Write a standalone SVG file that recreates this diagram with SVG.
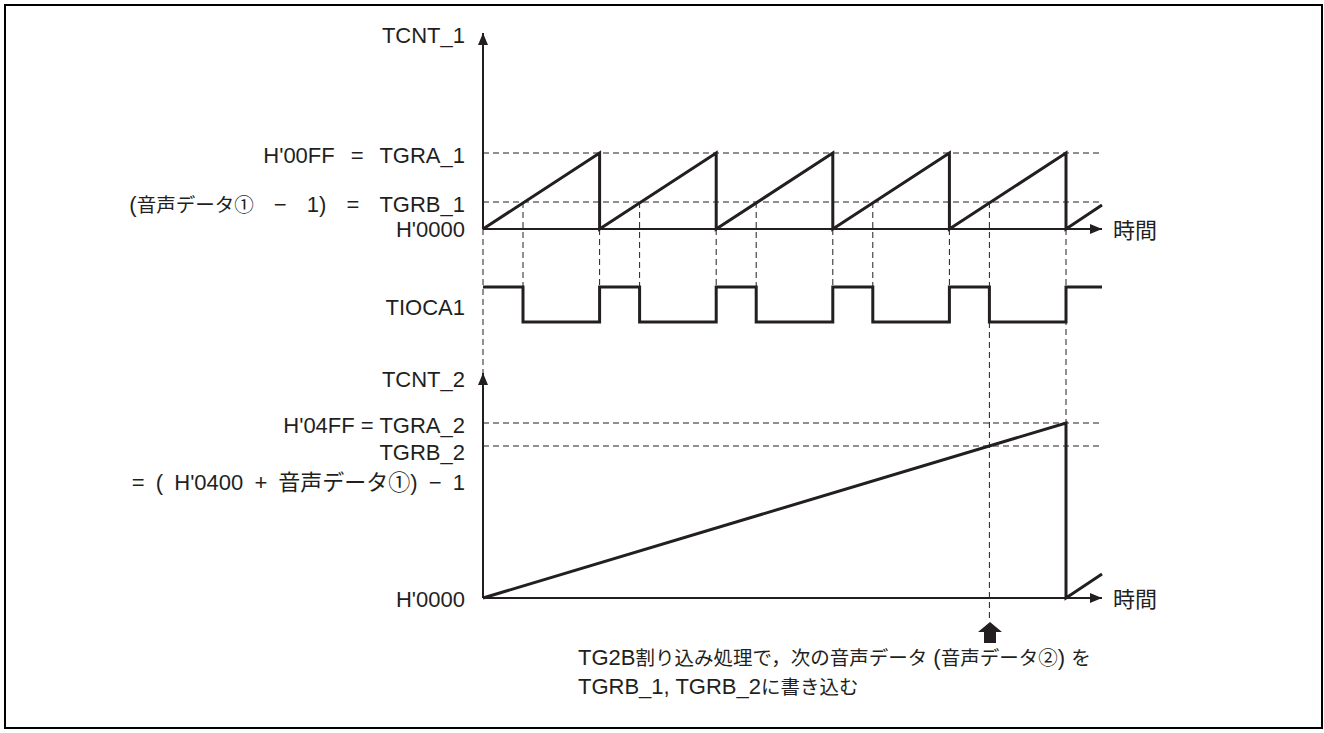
<svg xmlns="http://www.w3.org/2000/svg" width="1324" height="733" viewBox="0 0 1324 733">
<style>
text{font-family:"Liberation Sans","Noto Sans CJK JP",sans-serif;font-size:22px;fill:#231f20}
.j{font-family:"Noto Sans CJK JP",sans-serif;font-size:19.5px}
.jt{font-family:"Noto Sans CJK JP",sans-serif;font-size:22px}
.lbl{text-anchor:end}
.ws{word-spacing:10px}
.axis{stroke:#231f20;stroke-width:2;fill:none}
.wave{stroke:#231f20;stroke-width:3;fill:none;stroke-linejoin:miter}
.dash{stroke:#231f20;stroke-width:1;stroke-dasharray:6 4;fill:none}
</style>
<defs>
<marker id="ah" viewBox="0 0 12 10" refX="12" refY="5" markerWidth="12" markerHeight="10" markerUnits="userSpaceOnUse" orient="auto">
<path d="M0,0 L12,5 L0,10 Z" fill="#231f20"/>
</marker>
</defs>
<rect x="5" y="5" width="1317" height="723" fill="#fff" stroke="#000" stroke-width="2"/>

<g id="connectors">
<path class="dash" d="M483,153 H1102 M483,202 H1102 M483,423 H1102 M483,446 H1102"/>
<path class="dash" d="M483,229 V373 M523,202 V322 M599.6,229 V322 M639.6,202 V322 M716.2,229 V322 M756.2,202 V322 M832.8,229 V322 M872.8,202 V322 M949.4,229 V322 M989.4,202 V618 M1066,229 V423"/>
<line class="axis" x1="483" y1="229" x2="483" y2="33" marker-end="url(#ah)"/>
<line class="axis" x1="483" y1="229" x2="1102" y2="229" marker-end="url(#ah)"/>
<line class="axis" x1="483" y1="598" x2="483" y2="373" marker-end="url(#ah)"/>
<line class="axis" x1="483" y1="598" x2="1102" y2="598" marker-end="url(#ah)"/>
</g>

<g id="tcnt1-wave">
<path class="wave" d="M483,229 L599.6,153 V229 L716.2,153 V229 L832.8,153 V229 L949.4,153 V229 L1066,153 V229 L1102,205"/>
</g>
<g id="tioca1-wave">
<path class="wave" d="M483,287 H523 V322 H599.6 V287 H639.6 V322 H716.2 V287 H756.2 V322 H832.8 V287 H872.8 V322 H949.4 V287 H989.4 V322 H1066 V287 H1102"/>
</g>
<g id="tcnt2-wave">
<path class="wave" d="M483,598 L1066,423 V598 L1102,574"/>
</g>

<g id="labels-top">
<text class="lbl" x="465" y="43">TCNT_1</text>
<text class="lbl ws" x="465" y="163">H'00FF = TGRA_1</text>
<text class="lbl" x="465" y="212" style="word-spacing:14px">(<tspan class="j">音声データ①</tspan> − 1) = TGRB_1</text>
<text class="lbl" x="465" y="237">H'0000</text>
<text class="jt" x="1113" y="238">時間</text>
</g>
<g id="labels-tioca">
<text class="lbl" x="465" y="315">TIOCA1</text>
</g>
<g id="labels-bottom">
<text class="lbl" x="465" y="387">TCNT_2</text>
<text class="lbl" x="465" y="433">H'04FF = TGRA_2</text>
<text class="lbl" x="465" y="460">TGRB_2</text>
<text class="lbl" x="465" y="490" style="word-spacing:5px">= ( H'0400 + <tspan class="jt">音声データ①</tspan>) − 1</text>
<text class="lbl" x="465" y="607">H'0000</text>
<text class="jt" x="1113" y="607">時間</text>
</g>

<g id="note">
<path d="M990,622 L1002,632 H996 V643 H984 V632 H978 Z" fill="#231f20"/>
<text x="578" y="665">TG2B<tspan class="j">割り込み処理で，次の音声データ</tspan> (<tspan class="j">音声データ②</tspan>) <tspan class="j">を</tspan><tspan x="578" y="694">TGRB_1, TGRB_2</tspan><tspan class="j">に書き込む</tspan></text>
</g>
</svg>
